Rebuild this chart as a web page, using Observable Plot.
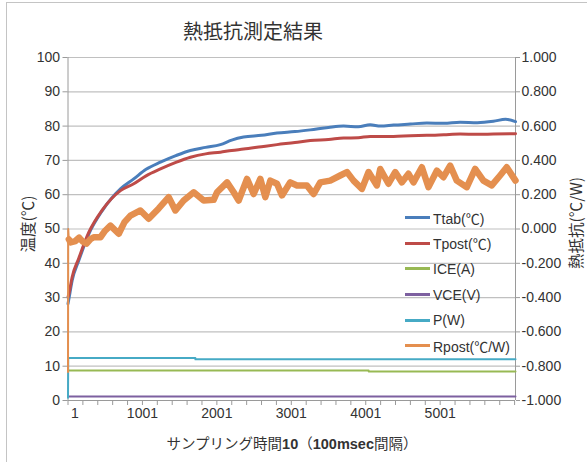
<!DOCTYPE html>
<html>
<head>
<meta charset="utf-8">
<script src="https://cdn.jsdelivr.net/npm/d3@7"></script>
<script src="https://cdn.jsdelivr.net/npm/@observablehq/plot@0.6"></script>
<style>
  html, body { margin: 0; padding: 0; background: #fff; }
  #wrap { position: relative; width: 587px; height: 462px; overflow: hidden;
          font-family: "Liberation Sans", "Noto Sans CJK JP", sans-serif; color: #404040; }
  #border { position: absolute; left: 6px; top: 2px; width: 600px; height: 500px;
            border-left: 1px solid #c4c4c4; border-top: 1px solid #c4c4c4; }
  .abs { position: absolute; white-space: nowrap; }
  #title { left: 0; width: 506px; top: 18px; text-align: center; font-size: 20px; line-height: 26px; color: #333;
           font-family: "Noto Sans CJK JP", sans-serif; }
  .ytitle { font-size: 15.5px; line-height: 16px; transform: translate(-50%, -50%) rotate(-90deg);
            font-family: "Noto Sans CJK JP", sans-serif; color: #333; }
  #xtitle { left: 292px; top: 442px; transform: translate(-50%, -50%); font-size: 14.5px; color: #333; }
  #legend { left: 405px; top: 205px; }
  .lrow { height: 25.6px; display: flex; align-items: center; font-size: 14px; color: #333; }
  .sw { width: 25px; height: 3px; margin-right: 3px; }
</style>
</head>
<body>
<div id="wrap">
  <div id="chart"></div>
  <div id="border"></div>
  <div id="title" class="abs">熱抵抗測定結果</div>
  <div class="abs ytitle" style="left:27px; top:224px;">温度(℃)</div>
  <div class="abs ytitle" style="left:575px; top:223px;">熱抵抗(℃/W)</div>
  <div id="xtitle" class="abs">サンプリング時間<b>10</b>（<b>100msec</b>間隔）</div>
  <div id="legend" class="abs"></div>
</div>
<script>
// ---- data ----
const seriesNames = ["Ttab(℃)", "Tpost(℃)", "ICE(A)", "VCE(V)", "P(W)", "Rpost(℃/W)"];
const seriesColors = ["#4A7EBB", "#BE4B48", "#98B954", "#7D60A0", "#46AAC5", "#E48F4F"];

const ttabSample = [1, 12, 57, 146, 280, 460, 706, 884, 1050, 1243, 1450, 1645, 1850, 2048, 2200, 2360, 2600, 2809, 3050, 3256, 3500, 3703, 3900, 4060, 4200, 4374, 4600, 4822, 5050, 5268, 5500, 5716, 5880, 6013];
const ttabValue  = [28.2, 29.5, 35, 40.8, 48.5, 55.3, 61.7, 64.6, 67.4, 69.5, 71.4, 72.9, 73.8, 74.6, 75.9, 76.8, 77.3, 78.0, 78.4, 78.9, 79.6, 80.0, 79.8, 80.4, 80.0, 80.3, 80.6, 80.9, 80.8, 81.1, 81.0, 81.4, 82.0, 81.3];

const tpostSample = [1, 12, 57, 146, 280, 460, 706, 884, 1050, 1243, 1450, 1645, 1850, 2048, 2200, 2360, 2600, 2809, 3050, 3256, 3500, 3703, 3900, 4060, 4374, 4600, 4822, 5050, 5268, 5500, 5716, 6013];
const tpostValue  = [30.1, 31, 36, 41.5, 49, 55.5, 61.2, 63.2, 65.5, 67.5, 69.4, 70.9, 71.9, 72.4, 72.9, 73.3, 74.0, 74.6, 75.2, 75.8, 76.1, 76.5, 76.6, 77.0, 77.0, 77.2, 77.3, 77.5, 77.7, 77.6, 77.7, 77.8];

const iceSample = [1, 4040, 4041, 6013];
const iceValue  = [8.75, 8.75, 8.45, 8.45];

const vceSample = [1, 6013];
const vceValue  = [1.2, 1.2];

const pSample = [1, 4, 1712, 1713, 6013];
const pValue  = [0.8, 12.4, 12.4, 12.0, 12.0];

const rpostSample = [1, 4, 12, 35, 100, 150, 200, 250, 300, 347, 437, 500, 571, 683, 760, 840, 974, 1085, 1220, 1354, 1444, 1555, 1690, 1824, 1958, 2003, 2138, 2227, 2294, 2406, 2495, 2585, 2652, 2719, 2809, 2876, 2987, 3077, 3211, 3300, 3390, 3524, 3658, 3748, 3837, 3950, 4039, 4151, 4196, 4307, 4397, 4487, 4576, 4643, 4755, 4844, 4956, 5045, 5135, 5224, 5359, 5471, 5582, 5694, 5806, 5895, 6013];
const rpostValue  = [-0.834, 0.0, -0.06, -0.078, -0.07, -0.05, -0.074, -0.085, -0.06, -0.048, -0.048, -0.01, 0.02, -0.028, 0.04, 0.078, 0.108, 0.06, 0.12, 0.186, 0.108, 0.166, 0.214, 0.166, 0.17, 0.214, 0.272, 0.214, 0.166, 0.292, 0.204, 0.292, 0.186, 0.282, 0.264, 0.196, 0.272, 0.254, 0.254, 0.204, 0.272, 0.282, 0.312, 0.332, 0.282, 0.234, 0.332, 0.254, 0.35, 0.264, 0.332, 0.272, 0.322, 0.272, 0.36, 0.244, 0.34, 0.302, 0.37, 0.282, 0.244, 0.35, 0.282, 0.254, 0.312, 0.36, 0.282];

const leftTicks  = [0, 10, 20, 30, 40, 50, 60, 70, 80, 90, 100];
const rightTicks = [-1.0, -0.8, -0.6, -0.4, -0.2, 0.0, 0.2, 0.4, 0.6, 0.8, 1.0];
const xLabelTicks = [1001, 2001, 3001, 4001, 5001];
const xFirstTick = [1];
const xDomain = [1, 6013];
const minorStep = 200;

// ---- build ----
const zip = (s, v) => s.map((x, i) => ({s: x, v: v[i]}));
const ttab = zip(ttabSample, ttabValue);
const tpost = zip(tpostSample, tpostValue);
const ice = zip(iceSample, iceValue);
const vce = zip(vceSample, vceValue);
const pw = zip(pSample, pValue);
const rpost = zip(rpostSample, rpostValue);
const rpostStart = rpost.slice(0, 3);   // initial spike (thin)
const rpostRest = rpost.slice(2);       // noisy band (thick)

// secondary axis (-1..1) mapped onto primary (0..100)
const toLeft = r => 50 + 50 * r;
const toRight = l => (l - 50) / 50;

const axisColor = "#9a9a9a";
const gridColor = "#c0c0c0";

const chart = Plot.plot({
  width: 587,
  height: 462,
  marginLeft: 67.5,
  marginRight: 72,
  marginTop: 57,
  marginBottom: 62,
  style: { fontFamily: '"Liberation Sans", "Noto Sans CJK JP", sans-serif', fontSize: "14px", color: "#333", background: "transparent" },
  x: { domain: xDomain },
  y: { domain: [0, 100] },
  marks: [
    Plot.gridY(leftTicks.filter(d => d > 0), { stroke: gridColor, strokeOpacity: 1, strokeWidth: 1.2 }),
    Plot.ruleY([0], { stroke: axisColor }),
    Plot.ruleX([xDomain[0]], { stroke: axisColor }),
    Plot.ruleX([xDomain[1]], { stroke: axisColor }),
    Plot.line(ttab, { x: "s", y: "v", stroke: seriesColors[0], strokeWidth: 3, curve: "monotone-x" }),
    Plot.line(tpost, { x: "s", y: "v", stroke: seriesColors[1], strokeWidth: 3, curve: "monotone-x" }),
    Plot.line(ice, { x: "s", y: "v", stroke: seriesColors[2], strokeWidth: 2 }),
    Plot.line(vce, { x: "s", y: "v", stroke: seriesColors[3], strokeWidth: 2 }),
    Plot.line(pw, { x: "s", y: "v", stroke: seriesColors[4], strokeWidth: 2 }),
    Plot.line(rpostStart, { x: "s", y: d => toLeft(d.v), stroke: seriesColors[5], strokeWidth: 2 }),
    Plot.line(rpostRest, { x: "s", y: d => toLeft(d.v), stroke: seriesColors[5], strokeWidth: 6.5, strokeLinejoin: "round" }),
    Plot.axisY({ anchor: "left", ticks: leftTicks, tickSize: 5, tickPadding: 3, stroke: axisColor, label: null, tickFormat: d => String(d) }),
    Plot.axisY({ anchor: "right", ticks: rightTicks.map(toLeft), tickSize: 4, tickPadding: 2, stroke: axisColor, label: null,
                 tickFormat: d => toRight(d).toFixed(3) }),
    Plot.axisX({ anchor: "bottom", ticks: d3.range(xDomain[0], xDomain[1], minorStep), tickSize: 5, stroke: axisColor, tickFormat: () => "", label: null }),
    Plot.axisX({ anchor: "bottom", ticks: xLabelTicks, tickSize: 0, tickPadding: 8, label: null, tickFormat: d => String(d) }),
    Plot.axisX({ anchor: "bottom", ticks: xFirstTick, tickSize: 0, tickPadding: 8, dx: 7, label: null, tickFormat: d => String(d) })
  ]
});
document.getElementById("chart").appendChild(chart);

// legend
const legend = document.getElementById("legend");
seriesNames.forEach((name, i) => {
  const row = document.createElement("div");
  row.className = "lrow";
  const sw = document.createElement("div");
  sw.className = "sw";
  sw.style.background = seriesColors[i];
  const t = document.createElement("span");
  t.textContent = name;
  row.appendChild(sw);
  row.appendChild(t);
  legend.appendChild(row);
});
</script>
</body>
</html>
